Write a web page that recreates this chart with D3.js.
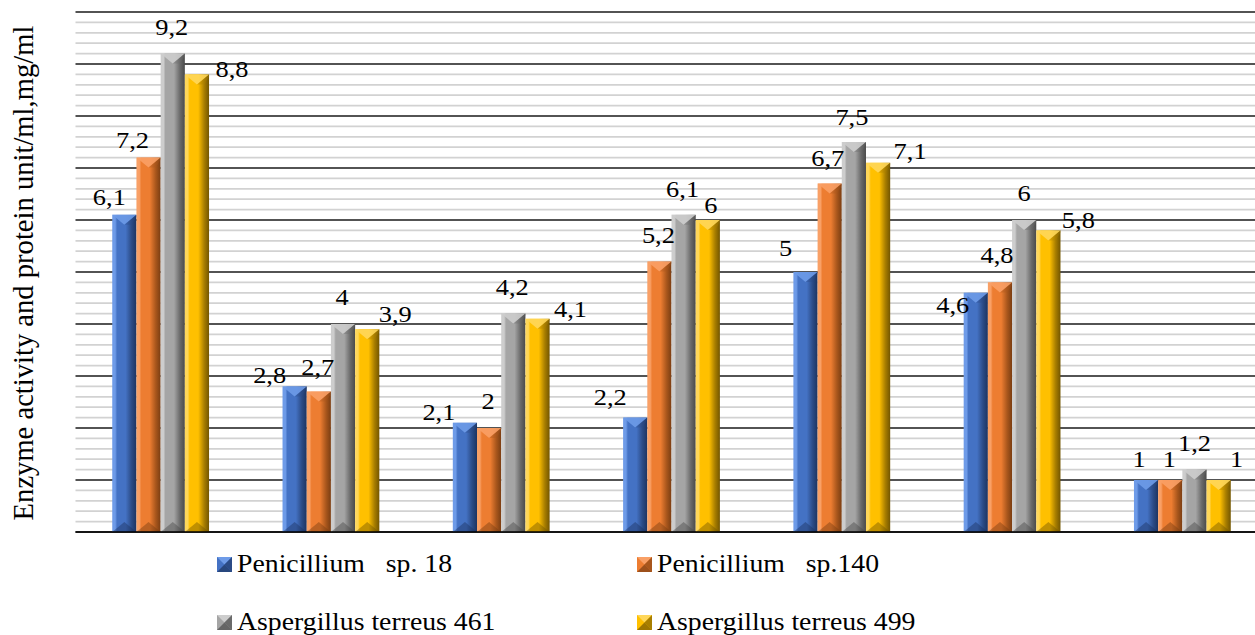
<!DOCTYPE html>
<html>
<head>
<meta charset="utf-8">
<script src="https://cdn.jsdelivr.net/npm/d3@7/dist/d3.min.js"></script>
<style>
  html, body { margin: 0; padding: 0; background: #ffffff; }
  svg { display: block; }
  svg text { font-family: 'Liberation Serif', 'Times New Roman', 'DejaVu Serif', serif; fill: #000; }
  .legend text { white-space: pre; }
</style>
</head>
<body>
<svg id="chart" width="1255" height="635"></svg>
<script>
// ---------- data ----------
const categories = ["G1", "G2", "G3", "G4", "G5", "G6", "G7"];
const seriesNames = ["Penicillium   sp. 18", "Penicillium   sp.140", "Aspergillus terreus 461", "Aspergillus terreus 499"];
const penicillium18 = [6.1, 2.8, 2.1, 2.2, 5, 4.6, 1];
const penicillium140 = [7.2, 2.7, 2, 5.2, 6.7, 4.8, 1];
const aspergillus461 = [9.2, 4, 4.2, 6.1, 7.5, 6, 1.2];
const aspergillus499 = [8.8, 3.9, 4.1, 6, 7.1, 5.8, 1];
const yMajorTicks = [0, 1, 2, 3, 4, 5, 6, 7, 8, 9, 10];
const yTitle = "Enzyme activity and protein unit/ml,mg/ml";

// ---------- layout / style (not data) ----------
const FONT = "'Liberation Serif', 'Times New Roman', 'DejaVu Serif', serif";
const palette = [
  { hi: "#6e9be8", base: "#4472c4", dark: "#2b4b86", darker: "#1d3461" },
  { hi: "#f9a066", base: "#ed7d31", dark: "#a8561c", darker: "#7a3d12" },
  { hi: "#cdcdcd", base: "#a5a5a5", dark: "#6a6a6a", darker: "#4a4a4a" },
  { hi: "#ffd75a", base: "#ffc000", dark: "#a87e00", darker: "#735600" }
];
// label nudges [dx, dy] relative to bar centre / bar top, per series per group
const labelNudges = [
  [[-15,-10],[-25,-3],[-26,-3],[-25,-13],[-20,-16],[-23,20],[-7,-13]],
  [[-16,-10],[-1,-17],[-1,-19],[-1,-19],[-2,-18],[-3,-19],[-1,-13]],
  [[-1,-19],[-1,-19],[-1,-19],[-1,-18],[-2,-17],[0,-19],[0,-19]],
  [[35,3],[28,-7],[33,-2],[3,-7],[32,-4],[30,-2],[18,-13]]
];
const stretch = 1.1;

const seriesValues = [penicillium18, penicillium140, aspergillus461, aspergillus499];

const svg = d3.select("#chart");
const plotLeft = 75.5, plotRight = 1267.5, plotTop = 12, plotBottom = 532;

const x0 = d3.scaleBand().domain(categories).range([plotLeft, plotRight]).padding(0);
const barW = 24.2;
const x1 = d3.scaleBand().domain(d3.range(seriesNames.length))
  .range([x0.bandwidth() / 2 - 2 * barW, x0.bandwidth() / 2 + 2 * barW]).padding(0);
const y = d3.scaleLinear().domain([0, 10]).range([plotBottom, plotTop]);

// gradients
const defs = svg.append("defs");
palette.forEach((c, i) => {
  const g = defs.append("linearGradient").attr("id", "grad" + i)
    .attr("x1", "0%").attr("x2", "100%").attr("y1", "0%").attr("y2", "0%");
  [[0, c.hi], [0.12, c.hi], [0.2, c.base], [0.55, c.base], [0.8, c.dark], [1, c.darker]]
    .forEach(([o, col]) => g.append("stop").attr("offset", o).attr("stop-color", col));
});

// grid
const minorTicks = d3.range(0, 10.001, 0.2).filter(v => Math.abs(v - Math.round(v)) > 1e-6);
svg.append("g").selectAll("line").data(minorTicks).join("line")
  .attr("x1", plotLeft).attr("x2", plotRight)
  .attr("y1", d => y(d)).attr("y2", d => y(d))
  .attr("stroke", "#d2d2d2").attr("stroke-width", 1.8);
svg.append("g").selectAll("line").data(yMajorTicks).join("line")
  .attr("x1", plotLeft).attr("x2", plotRight)
  .attr("y1", d => y(d)).attr("y2", d => y(d))
  .attr("stroke", "#1a1a1a").attr("stroke-width", 1.3);

// bars
const bars = [];
seriesValues.forEach((vals, s) => vals.forEach((v, g) => bars.push({ s, g, v })));

const barG = svg.append("g");
const bx = d => x0(categories[d.g]) + x1(d.s);
barG.selectAll("rect.body").data(bars).join("rect").attr("class", "body")
  .attr("x", d => bx(d)).attr("width", x1.bandwidth())
  .attr("y", d => y(d.v)).attr("height", d => y(0) - y(d.v))
  .attr("fill", d => `url(#grad${d.s})`);
barG.selectAll("path.top").data(bars).join("path").attr("class", "top")
  .attr("d", d => {
    const xl = bx(d), w = x1.bandwidth(), t = y(d.v), h = Math.min(10, (y(0) - t) / 2);
    return `M${xl},${t}L${xl + w},${t}L${xl + w / 2},${t + h}Z`;
  })
  .attr("fill", d => palette[d.s].hi).attr("opacity", 0.9);
barG.selectAll("path.topL").data(bars).join("path").attr("class", "topL")
  .attr("d", d => {
    const xl = bx(d), w = x1.bandwidth(), t = y(d.v), h = Math.min(10, (y(0) - t) / 2);
    return `M${xl + w},${t}L${xl + w / 2},${t + h}L${xl + w * 0.8},${t + h}L${xl + w},${t + 2}Z`;
  })
  .attr("fill", d => palette[d.s].dark).attr("opacity", 0.35);
barG.selectAll("path.bot").data(bars).join("path").attr("class", "bot")
  .attr("d", d => {
    const xl = bx(d), w = x1.bandwidth(), b = y(0), h = Math.min(10, (b - y(d.v)) / 2);
    return `M${xl},${b}L${xl + w},${b}L${xl + w / 2},${b - h}Z`;
  })
  .attr("fill", d => palette[d.s].darker).attr("opacity", 0.45);

// value labels
const fmt = v => String(v).replace(".", ",");
svg.append("g").selectAll("g").data(bars).join("g")
  .attr("transform", d => {
    const n = labelNudges[d.s][d.g];
    return `translate(${bx(d) + x1.bandwidth() / 2 + n[0]},${y(d.v) + n[1]})`;
  })
  .append("text")
  .attr("transform", `scale(${stretch},1)`)
  .attr("text-anchor", "middle")
  .attr("font-family", FONT)
  .attr("font-size", 24)
  .text(d => fmt(d.v));

// baseline
svg.append("line").attr("x1", plotLeft).attr("x2", plotRight)
  .attr("y1", y(0)).attr("y2", y(0)).attr("stroke", "#000").attr("stroke-width", 1.3);

// y title
svg.append("text")
  .attr("transform", `translate(33,${(plotTop + plotBottom) / 2 + 1}) rotate(-90)`)
  .attr("text-anchor", "middle")
  .attr("font-family", FONT)
  .attr("font-size", 28.6)
  .text(yTitle);

// legend
const legendPos = [[217, 572], [637, 572], [217, 630], [637, 630]];
const legend = svg.append("g").attr("class", "legend");
seriesNames.forEach((name, i) => {
  const [lx, ly] = legendPos[i];
  const c = palette[i];
  const sz = 15;
  const gItem = legend.append("g").attr("transform", `translate(${lx},${ly - sz})`);
  gItem.append("rect").attr("width", sz).attr("height", sz).attr("fill", c.base);
  gItem.append("path").attr("d", `M0,0L${sz},0L${sz / 2},${sz / 2}Z`).attr("fill", c.hi);
  gItem.append("path").attr("d", `M${sz},0L${sz},${sz}L${sz / 2},${sz / 2}Z`).attr("fill", c.dark);
  gItem.append("path").attr("d", `M0,${sz}L${sz},${sz}L${sz / 2},${sz / 2}Z`).attr("fill", c.darker).attr("opacity", 0.7);
  legend.append("g").attr("transform", `translate(${lx + 20},${ly})`)
    .append("text").attr("transform", `scale(${stretch * 0.99},1)`)
    .attr("font-family", FONT)
    .attr("font-size", 25.5)
    .style("white-space", "pre").text(name);
});
</script>
</body>
</html>
